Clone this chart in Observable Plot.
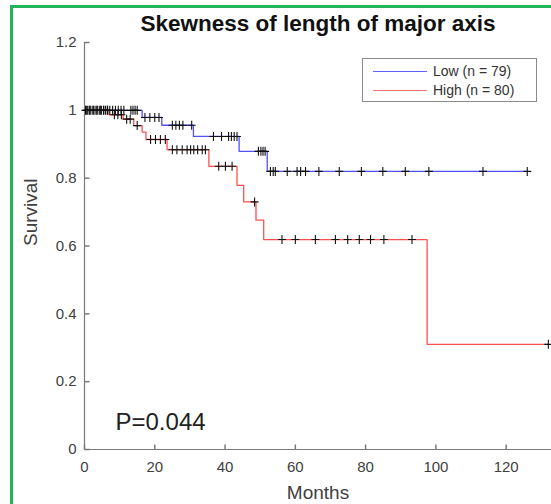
<!DOCTYPE html>
<html>
<head>
<meta charset="utf-8">
<script src="https://cdn.jsdelivr.net/npm/d3@7"></script>
<script src="https://cdn.jsdelivr.net/npm/@observablehq/plot@0.6"></script>
<style>
  html, body { margin: 0; padding: 0; background: #fff; }
  #wrap { position: relative; width: 551px; height: 504px; overflow: hidden; background: #fff; font-family: "Liberation Sans", Arial, sans-serif; }
  #frame { position: absolute; left: 10px; top: 5px; width: 700px; height: 700px; border: 3px solid #22b55a; }
  #chart { position: absolute; left: 0; top: 0; }
  #legend { position: absolute; left: 362px; top: 58px; width: 173px; height: 42px; border: 1px solid #8a8a8a; background: #fff; font-size: 14px; color: #333; }
  .lg-row { position: absolute; left: 10px; height: 16px; display: flex; align-items: center; }
  .lg-line { width: 54px; height: 0; border-top: 1.3px solid; margin-right: 6px; }
</style>
</head>
<body>
<div id="wrap">
  <div id="frame"></div>
  <div id="chart"></div>
  <div id="legend">
    <div class="lg-row" style="top:4px"><div class="lg-line" style="border-color:#6060ff"></div><span>Low (n = 79)</span></div>
    <div class="lg-row" style="top:23px"><div class="lg-line" style="border-color:#ff6a6a"></div><span>High (n = 80)</span></div>
  </div>
</div>
<script>
// ---- Data ----
const title = "Skewness of length of major axis";
const xLabel = "Months";
const yLabel = "Survival";
const pText = "P=0.044";

const xTicks = [0, 20, 40, 60, 80, 100, 120];
const yTicks = [0, 0.2, 0.4, 0.6, 0.8, 1, 1.2];
const yTickLabels = ["0", "0.2", "0.4", "0.6", "0.8", "1", "1.2"];

// Low group (n = 79): step times and survival
const lowTimes = [0, 16.4, 22, 31, 44, 52, 126];
const lowSurv  = [1, 0.979, 0.956, 0.923, 0.879, 0.820, 0.820];
const lowCensor = [0.3, 0.8, 1.3, 1.8, 2.4, 3, 3.6, 4.2, 4.8, 5.4, 6, 6.6, 7.2, 8, 8.8, 9.6, 10.4, 11.2,
  13.2, 13.8, 14.4, 15, 17.2, 18.6, 20, 21.2, 25, 26, 27, 28, 30.5,
  36.7, 39, 41, 41.8, 42.6, 43.4, 49.5, 50.2, 50.8, 51.4,
  52.9, 53.7, 54.3, 57.7, 60.5, 61.5, 62.9, 66.7, 72.5, 78.8, 84.9, 91.3, 98, 113.4, 126];

// High group (n = 80)
const highTimes = [0, 7, 11, 14, 16.4, 17.5, 23.5, 35.4, 43.4, 45.3, 48.8, 51, 97.5, 132];
const highSurv  = [1, 0.987, 0.974, 0.955, 0.936, 0.914, 0.884, 0.835, 0.779, 0.730, 0.676, 0.619, 0.310, 0.310];
const highCensor = [0.5, 1.5, 2.5, 3.5, 4.5, 5.5, 6.5, 8.5, 9.5, 10.5, 12, 13, 15,
  18.8, 20.2, 21.6, 23, 25, 26.3, 27.8, 29.2, 30.2, 31.1, 32.2, 33.5, 34.4,
  38.2, 40.1, 42, 48.4, 56.2, 60, 65.7, 71.4, 74.9, 78.2, 81.4, 85.2, 93.2, 132];

// ---- Build tables ----
const toSteps = (times, surv) => times.map((t, i) => ({t, s: surv[i]}));
const survAt = (times, surv, t) => { let s = surv[0]; for (let i = 0; i < times.length; i++) if (times[i] <= t) s = surv[i]; return s; };
const lowSteps = toSteps(lowTimes, lowSurv);
const highSteps = toSteps(highTimes, highSurv);
const censors = [
  ...lowCensor.map(t => ({t, s: survAt(lowTimes, lowSurv, t)})),
  ...highCensor.map(t => ({t, s: survAt(highTimes, highSurv, t)}))
];

const plusSym = { draw(ctx) { ctx.moveTo(-4, 0); ctx.lineTo(4, 0); ctx.moveTo(0, -4.5); ctx.lineTo(0, 4.5); } };
const yTickSym = { draw(ctx) { ctx.moveTo(0, 0); ctx.lineTo(5, 0); } };
const xTickSym = { draw(ctx) { ctx.moveTo(0, 0); ctx.lineTo(0, -5); } };

const axisColor = "#7a7a7a";
const textColor = "#404040";

const chart = Plot.plot({
  width: 551, height: 504,
  marginLeft: 84, marginTop: 42, marginBottom: 55, marginRight: 0,
  style: { fontFamily: "'Liberation Sans', Arial, sans-serif", background: "transparent", color: textColor, overflow: "visible" },
  x: { domain: [0, 132.9] },
  y: { domain: [0, 1.2] },
  marks: [
    Plot.ruleX([0], { stroke: axisColor, strokeWidth: 1.2 }),
    Plot.ruleY([0], { stroke: axisColor, strokeWidth: 1.2 }),
    Plot.dot(yTicks, { x: 0, y: d => d, symbol: yTickSym, r: 3, stroke: axisColor, fill: "none" }),
    Plot.dot(xTicks, { x: d => d, y: 0, symbol: xTickSym, r: 3, stroke: axisColor, fill: "none" }),
    Plot.axisX({ ticks: xTicks, tickSize: 0, tickPadding: 12, fontSize: 15, label: null, tickFormat: d => String(d) }),
    Plot.axisY({ ticks: yTicks, tickSize: 0, tickPadding: 8, fontSize: 15, label: null, tickFormat: (d, i) => yTickLabels[i] }),
    Plot.line(lowSteps, { x: "t", y: "s", curve: "step-after", stroke: "#5050ff", strokeWidth: 1.3 }),
    Plot.line(highSteps, { x: "t", y: "s", curve: "step-after", stroke: "#ff5050", strokeWidth: 1.3 }),
    Plot.dot(censors, { x: "t", y: "s", symbol: plusSym, r: 4, stroke: "#111", strokeWidth: 1.1, fill: "none" }),
    Plot.text([title], { frameAnchor: "top", lineAnchor: "middle", dy: -19, fontSize: 22.5, fontWeight: "bold", fill: "#111", text: d => d }),
    Plot.text([xLabel], { frameAnchor: "bottom", lineAnchor: "middle", dy: 43, fontSize: 19, fill: textColor, text: d => d }),
    Plot.text([yLabel], { frameAnchor: "left", dx: -54, rotate: -90, fontSize: 19, fill: textColor, text: d => d }),
    Plot.text([pText], { frameAnchor: "bottom-left", lineAnchor: "middle", dx: 31, dy: -27, textAnchor: "start", fontSize: 24, fill: "#222", text: d => d })
  ]
});
document.getElementById("chart").appendChild(chart);
</script>
</body>
</html>
